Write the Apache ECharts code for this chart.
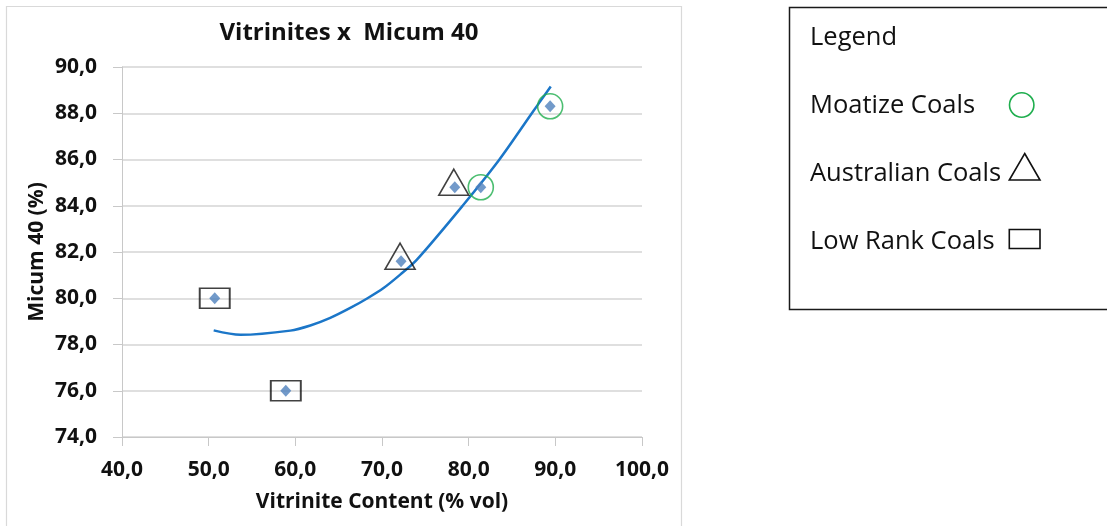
<!DOCTYPE html>
<html>
<head>
<meta charset="utf-8">
<script src="https://cdn.jsdelivr.net/npm/echarts@6/dist/echarts.min.js"></script>
<style>
html,body{margin:0;padding:0;background:#fff;}
#chart{width:1107px;height:526px;}
</style>
</head>
<body>
<div id="chart"></div>
<script>
// Data
const vitrinite = [50.7, 58.9, 72.2, 78.4, 81.4, 89.4];
const micum40   = [80.0, 76.0, 81.6, 84.8, 84.8, 88.3];

// Group membership (indices into the arrays above)
const lowRankIdx    = [0, 1];
const australianIdx = [2, 3];
const moatizeIdx    = [4, 5];

// Polynomial trendline, points
const trendX = [50.58, 53.66, 59.42, 61.73, 64.03, 66.34, 68.33, 70.18, 72.10, 74.03, 79.30, 83.55, 87.29, 89.47];
const trendY = [78.61, 78.42, 78.60, 78.82, 79.15, 79.58, 80.00, 80.44, 81.02, 81.67, 84.00, 86.00, 88.00, 89.16];

const xTicks = {min: 40, max: 100, step: 10};
const yTicks = {min: 74, max: 90, step: 2};

const titleText = 'Vitrinites x  Micum 40';
const xName = 'Vitrinite Content (% vol)';
const yName = 'Micum 40 (%)';
const legendTitle = 'Legend';
const legendNames = ['Moatize Coals', 'Australian Coals', 'Low Rank Coals'];

const FONT = '"Open Sans", "Noto Sans", sans-serif';
const fmt = v => v.toFixed(1).replace('.', ',');
const pick = idx => idx.map(i => [vitrinite[i], micum40[i]]);

const chart = echarts.init(document.getElementById('chart'), null, {renderer: 'canvas'});

chart.setOption({
  animation: false,
  backgroundColor: '#fff',
  title: {
    text: titleText,
    left: 344,
    top: 16,
    textAlign: 'center',
    textStyle: {fontFamily: FONT, fontWeight: 'bold', fontSize: 24, color: '#111'}
  },
  grid: {left: 122, top: 67, width: 520, height: 370, containLabel: false},
  xAxis: {
    type: 'value',
    min: xTicks.min, max: xTicks.max, interval: xTicks.step,
    name: xName,
    nameLocation: 'middle',
    nameGap: 55,
    nameTextStyle: {fontFamily: FONT, fontWeight: 'bold', fontSize: 21, color: '#111'},
    axisLine: {show: true, lineStyle: {color: '#c8c8c8', width: 1}},
    axisTick: {show: true, length: 9, lineStyle: {color: '#c8c8c8'}},
    axisLabel: {formatter: fmt, margin: 23, fontFamily: FONT, fontWeight: 'bold', fontSize: 21, color: '#111'},
    splitLine: {show: false}
  },
  yAxis: {
    type: 'value',
    min: yTicks.min, max: yTicks.max, interval: yTicks.step,
    name: yName,
    nameLocation: 'middle',
    nameRotate: 90,
    nameGap: 74,
    nameTextStyle: {fontFamily: FONT, fontWeight: 'bold', fontSize: 21, color: '#111'},
    axisLine: {show: true, lineStyle: {color: '#c8c8c8', width: 1}},
    axisTick: {show: true, length: 9, lineStyle: {color: '#c8c8c8'}},
    axisLabel: {formatter: fmt, margin: 25, fontFamily: FONT, fontWeight: 'bold', fontSize: 21, color: '#111'},
    splitLine: {show: true, lineStyle: {color: '#d4d4d4', width: 1.5}}
  },
  series: [
    {
      name: 'Trendline',
      type: 'line',
      data: trendX.map((x, i) => [x, trendY[i]]),
      smooth: 0.3,
      showSymbol: false,
      lineStyle: {color: '#1b76c8', width: 2.5},
      z: 2
    },
    {
      name: 'Low Rank Coals',
      type: 'scatter',
      data: pick(lowRankIdx),
      symbol: 'rect',
      symbolSize: [30, 20],
      itemStyle: {color: 'rgba(0,0,0,0)', borderColor: '#111', borderWidth: 1.6},
      z: 3
    },
    {
      name: 'Australian Coals',
      type: 'scatter',
      data: pick(australianIdx),
      symbol: 'triangle',
      symbolSize: [30, 26],
      symbolOffset: [-1, -5],
      itemStyle: {color: 'rgba(0,0,0,0)', borderColor: '#111', borderWidth: 1.6},
      z: 3
    },
    {
      name: 'Moatize Coals',
      type: 'scatter',
      data: pick(moatizeIdx),
      symbol: 'circle',
      symbolSize: 25,
      itemStyle: {color: 'rgba(0,0,0,0)', borderColor: '#1fae4e', borderWidth: 1.6},
      z: 3
    },
    {
      name: 'Micum 40',
      type: 'scatter',
      data: vitrinite.map((x, i) => [x, micum40[i]]),
      symbol: 'diamond',
      symbolSize: [11, 12],
      itemStyle: {color: '#4f81bd'},
      z: 4
    }
  ],
  graphic: [
    // chart area border
    {type: 'rect', shape: {x: 6.5, y: 6.5, width: 675, height: 540}, style: {fill: 'none', stroke: '#d9d9d9', lineWidth: 1.2}, silent: true},
    // legend box
    {type: 'rect', shape: {x: 789.5, y: 7.5, width: 340, height: 302}, style: {fill: '#fff', stroke: '#1a1a1a', lineWidth: 1.5}, silent: true},
    {type: 'text', style: {text: legendTitle, x: 810, y: 38, font: '25.5px ' + FONT, fill: '#111', verticalAlign: 'middle'}},
    {type: 'text', style: {text: legendNames[0], x: 810, y: 106, font: '25.5px ' + FONT, fill: '#111', verticalAlign: 'middle'}},
    {type: 'text', style: {text: legendNames[1], x: 810, y: 174, font: '25.5px ' + FONT, fill: '#111', verticalAlign: 'middle'}},
    {type: 'text', style: {text: legendNames[2], x: 810, y: 242, font: '25.5px ' + FONT, fill: '#111', verticalAlign: 'middle'}},
    {type: 'circle', shape: {cx: 1021.7, cy: 105, r: 12.2}, style: {fill: 'none', stroke: '#1fae4e', lineWidth: 1.6}},
    {type: 'polygon', shape: {points: [[1024.7, 153.5], [1040, 180], [1009.3, 180]]}, style: {fill: 'none', stroke: '#111', lineWidth: 1.6}},
    {type: 'rect', shape: {x: 1009.3, y: 229.5, width: 30.7, height: 19}, style: {fill: 'none', stroke: '#111', lineWidth: 1.6}}
  ]
});
</script>
</body>
</html>
